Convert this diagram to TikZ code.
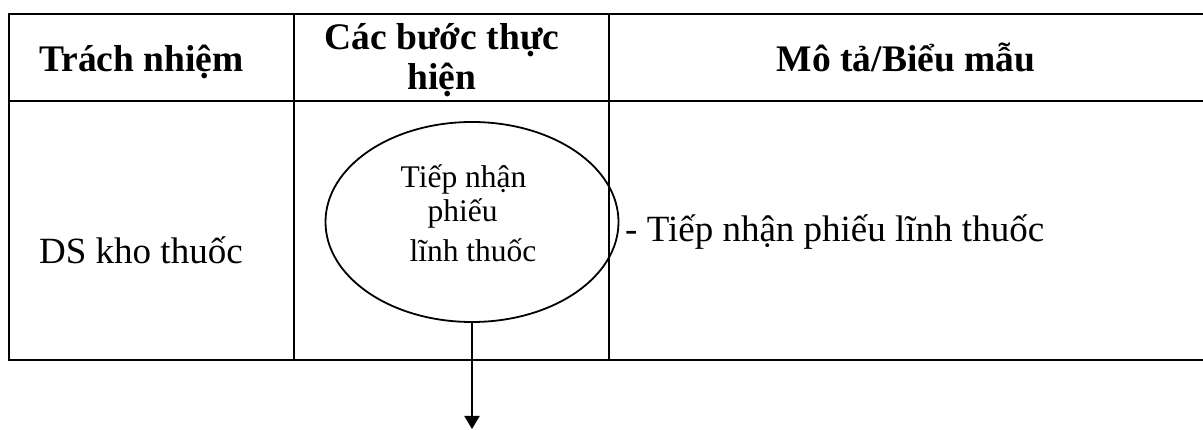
\documentclass[tikz,border=0pt]{standalone}
\usepackage{fontspec}
\setmainfont{Liberation Serif}
\usetikzlibrary{shapes.geometric,arrows.meta}
\begin{document}
\begin{tikzpicture}[x=1pt,y=-1pt,
 grid/.style={line width=2.5pt},
 hdr/.style={font=\fontsize{37.5}{40}\selectfont\bfseries, inner sep=0pt, anchor=base},
 body/.style={font=\fontsize{37}{40}\selectfont, inner sep=0pt, anchor=base west},
 small/.style={font=\fontsize{31.5}{36}\selectfont, inner sep=0pt, anchor=base},
 stepell/.style={ellipse, draw, line width=1.8pt, minimum width=293pt, minimum height=200pt, inner sep=0pt},
 arr/.style={line width=2pt, -{Triangle[width=15pt,length=13pt]}}]
\useasboundingbox (0,0) rectangle (1203,430);
% table grid
\draw[grid] (1203,14) -- (9,14) -- (9,360) -- (1203,360);
\draw[grid] (9,101) -- (1203,101);
\draw[grid] (294,14) -- (294,360);
\draw[grid] (609,14) -- (609,360);
% headers
\node[hdr, anchor=base west] (h1) at (39,72) {Trách nhiệm};
\node[hdr] (h2a) at (442,50) {Các bước thực};
\node[hdr] (h2b) at (442,90) {hiện};
\node[hdr] (h3) at (906,72) {Mô tả/Biểu mẫu};
% body
\node[body] (resp) at (39,264) {DS kho thuốc};
\node[stepell] (ell) at (472,222) {};
\node[small] (e1) at (463.5,188) {Tiếp nhận};
\node[small] (e2) at (462.5,222) {phiếu};
\node[small] (e3) at (473,262) {lĩnh thuốc};
\node[body] (desc) at (625,242) {- Tiếp nhận phiếu lĩnh thuốc};
\coordinate (tip) at (472,429);
\draw[arr] (ell.south) -- (tip);
\end{tikzpicture}
\end{document}
